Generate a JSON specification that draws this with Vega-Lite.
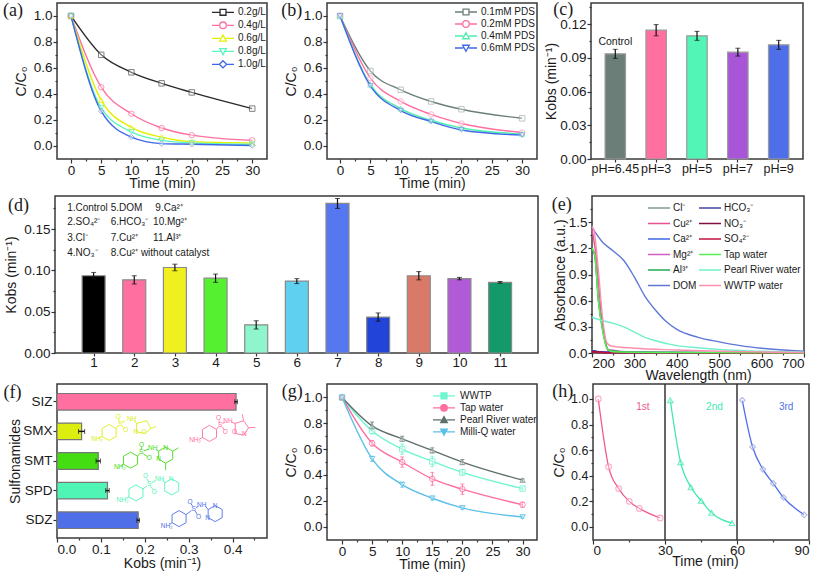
{"$schema":"https://vega.github.io/schema/vega-lite/v6.json","autosize":{"type":"none"},"padding":{"left":55,"top":3,"right":762,"bottom":570},"background":"white","config":{"font":"Liberation Sans","view":{"stroke":"#3a3a3a","strokeWidth":1.5},"axis":{"domain":false,"grid":false,"tickColor":"#333","tickWidth":1.2,"labelColor":"#1a1a1a","titleColor":"#1a1a1a","labelFontSize":13.5,"titleFontSize":14,"titleFontWeight":"normal","labelPadding":1,"tickSize":4,"labelOverlap":false}},"spacing":-13,"resolve":{"scale":{"color":"independent","stroke":"independent","shape":"independent"}},"vconcat":[{"spacing":2,"resolve":{"scale":{"color":"independent","stroke":"independent","shape":"independent"}},"vconcat":[{"bounds":"flush","spacing":1,"resolve":{"scale":{"color":"independent","stroke":"independent","shape":"independent"}},"hconcat":[{"width":1,"height":1,"view":{"stroke":null},"data":{"values":[]},"mark":"point"},{"width":210,"height":156,"encoding":{"x":{"field":"t","type":"quantitative","scale":{"domain":[-2.32,32.45],"nice":false,"zero":false},"axis":{"title":"Time (min)","titlePadding":0,"labelPadding":0,"values":[0,2.5,5,7.5,10,12.5,15,17.5,20,22.5,25,27.5,30],"format":"d","labelExpr":"datum.value%5==0?datum.label:''","tickSize":{"condition":{"test":"datum.value%5!=0","value":2},"value":4}}},"y":{"field":"v","type":"quantitative","scale":{"domain":[-0.104,1.1],"nice":false,"zero":false},"axis":{"title":"C/C₀","titlePadding":5,"values":[0,0.1,0.2,0.3,0.4,0.5,0.6,0.7,0.8,0.9,1],"format":".1f","labelExpr":"round(datum.value*10)%2==0?datum.label:''","tickSize":{"condition":{"test":"round(datum.value*10)%2!=0","value":2},"value":4}}}},"data":{"values":[{"s":"0.2g/L","t":0,"v":1},{"s":"0.2g/L","t":5,"v":0.7},{"s":"0.2g/L","t":10,"v":0.565},{"s":"0.2g/L","t":15,"v":0.48},{"s":"0.2g/L","t":20,"v":0.41},{"s":"0.2g/L","t":30,"v":0.285},{"s":"0.4g/L","t":0,"v":1},{"s":"0.4g/L","t":5,"v":0.45},{"s":"0.4g/L","t":10,"v":0.245},{"s":"0.4g/L","t":15,"v":0.135},{"s":"0.4g/L","t":20,"v":0.08},{"s":"0.4g/L","t":30,"v":0.04},{"s":"0.6g/L","t":0,"v":1},{"s":"0.6g/L","t":5,"v":0.35},{"s":"0.6g/L","t":10,"v":0.14},{"s":"0.6g/L","t":15,"v":0.065},{"s":"0.6g/L","t":20,"v":0.03},{"s":"0.6g/L","t":30,"v":0.02},{"s":"0.8g/L","t":0,"v":1},{"s":"0.8g/L","t":5,"v":0.29},{"s":"0.8g/L","t":10,"v":0.105},{"s":"0.8g/L","t":15,"v":0.04},{"s":"0.8g/L","t":20,"v":0.02},{"s":"0.8g/L","t":30,"v":0.01},{"s":"1.0g/L","t":0,"v":1},{"s":"1.0g/L","t":5,"v":0.265},{"s":"1.0g/L","t":10,"v":0.065},{"s":"1.0g/L","t":15,"v":0.015},{"s":"1.0g/L","t":20,"v":0.01},{"s":"1.0g/L","t":30,"v":0}]},"layer":[{"mark":{"type":"line","interpolate":"monotone","strokeWidth":1.4},"encoding":{"color":{"field":"s","type":"nominal","sort":null,"scale":{"domain":["0.2g/L","0.4g/L","0.6g/L","0.8g/L","1.0g/L"],"range":["#2a2a2a","#ff6f9f","#e3f000","#5cf5bd","#3f67e6"]},"legend":{"orient":"none","legendX":154,"legendY":3,"title":null,"padding":0,"labelFontSize":10,"labelColor":"#1a1a1a","symbolSize":484,"symbolStrokeWidth":1.3,"clipHeight":12.6,"rowPadding":0,"labelOffset":3,"symbolType":"M-1,0H1","encode":{"symbols":{"update":{"shape":{"signal":"{'0.2g/L':'M-1,0H-.27M.27,0H1M-.27,-.27H.27V.27H-.27Z','0.4g/L':'M-1,0H-.3M.3,0H1M.3,0A.3,.3 0 1 1 -.3,0A.3,.3 0 1 1 .3,0Z','0.6g/L':'M-1,0H-.25M.25,0H1M0,-.3L.3,.25H-.3Z','0.8g/L':'M-1,0H-.25M.25,0H1M0,.3L.3,-.25H-.3Z','1.0g/L':'M-1,0H-.3M.3,0H1M0,-.33L.33,0L0,.33L-.33,0Z'}[datum.value]"}}}}}}}},{"mark":{"type":"point","fill":"#ffffff","fillOpacity":0.5,"size":30,"strokeWidth":1,"opacity":0.75},"encoding":{"stroke":{"field":"s","type":"nominal","sort":null,"scale":{"range":["#555555","#ff6f9f","#e3f000","#5cf5bd","#7f95e6"]},"legend":null},"shape":{"field":"s","type":"nominal","sort":null,"scale":{"range":["square","circle","triangle-up","triangle-down","diamond"]},"legend":null}}},{"data":{"values":[{"t":-11.26,"v":1.04,"label":"(a)"}]},"mark":{"type":"text","font":"Liberation Serif","fontSize":18,"align":"left","baseline":"middle","color":"#1a1a1a"},"encoding":{"text":{"field":"label"}}}]},{"width":58,"height":1,"view":{"stroke":null},"data":{"values":[]},"mark":"point"},{"width":210,"height":156,"encoding":{"x":{"field":"t","type":"quantitative","scale":{"domain":[-2.15,32.45],"nice":false,"zero":false},"axis":{"title":"Time (min)","titlePadding":0,"labelPadding":0,"values":[0,2.5,5,7.5,10,12.5,15,17.5,20,22.5,25,27.5,30],"format":"d","labelExpr":"datum.value%5==0?datum.label:''","tickSize":{"condition":{"test":"datum.value%5!=0","value":2},"value":4}}},"y":{"field":"v","type":"quantitative","scale":{"domain":[-0.104,1.1],"nice":false,"zero":false},"axis":{"title":"C/C₀","titlePadding":5,"values":[0,0.1,0.2,0.3,0.4,0.5,0.6,0.7,0.8,0.9,1],"format":".1f","labelExpr":"round(datum.value*10)%2==0?datum.label:''","tickSize":{"condition":{"test":"round(datum.value*10)%2!=0","value":2},"value":4}}}},"data":{"values":[{"s":"0.1mM PDS","t":0,"v":1},{"s":"0.1mM PDS","t":5,"v":0.575},{"s":"0.1mM PDS","t":10,"v":0.43},{"s":"0.1mM PDS","t":15,"v":0.34},{"s":"0.1mM PDS","t":20,"v":0.28},{"s":"0.1mM PDS","t":30,"v":0.21},{"s":"0.2mM PDS","t":0,"v":1},{"s":"0.2mM PDS","t":5,"v":0.52},{"s":"0.2mM PDS","t":10,"v":0.34},{"s":"0.2mM PDS","t":15,"v":0.24},{"s":"0.2mM PDS","t":20,"v":0.17},{"s":"0.2mM PDS","t":30,"v":0.1},{"s":"0.4mM PDS","t":0,"v":1},{"s":"0.4mM PDS","t":5,"v":0.47},{"s":"0.4mM PDS","t":10,"v":0.285},{"s":"0.4mM PDS","t":15,"v":0.195},{"s":"0.4mM PDS","t":20,"v":0.135},{"s":"0.4mM PDS","t":30,"v":0.09},{"s":"0.6mM PDS","t":0,"v":1},{"s":"0.6mM PDS","t":5,"v":0.46},{"s":"0.6mM PDS","t":10,"v":0.27},{"s":"0.6mM PDS","t":15,"v":0.185},{"s":"0.6mM PDS","t":20,"v":0.12},{"s":"0.6mM PDS","t":30,"v":0.08}]},"layer":[{"mark":{"type":"line","interpolate":"monotone","strokeWidth":1.4},"encoding":{"color":{"field":"s","type":"nominal","sort":null,"scale":{"domain":["0.1mM PDS","0.2mM PDS","0.4mM PDS","0.6mM PDS"],"range":["#6b7f78","#ff6f9f","#4ff0b0","#3f67e6"]},"legend":{"orient":"none","legendX":127,"legendY":3,"title":null,"padding":0,"labelFontSize":10,"labelColor":"#1a1a1a","symbolSize":484,"symbolStrokeWidth":1.3,"clipHeight":12,"rowPadding":0,"labelOffset":3,"symbolType":"M-1,0H1","encode":{"symbols":{"update":{"shape":{"signal":"{'0.1mM PDS':'M-1,0H-.27M.27,0H1M-.27,-.27H.27V.27H-.27Z','0.2mM PDS':'M-1,0H-.3M.3,0H1M.3,0A.3,.3 0 1 1 -.3,0A.3,.3 0 1 1 .3,0Z','0.4mM PDS':'M-1,0H-.25M.25,0H1M0,-.3L.3,.25H-.3Z','0.6mM PDS':'M-1,0H-.25M.25,0H1M0,.3L.3,-.25H-.3Z'}[datum.value]"}}}}}}}},{"mark":{"type":"point","fill":"#ffffff","fillOpacity":0.5,"size":30,"strokeWidth":1,"opacity":0.75},"encoding":{"stroke":{"field":"s","type":"nominal","sort":null,"scale":{"range":["#aab4b0","#ff9fbf","#4ff0b0","#7f95e6"]},"legend":null},"shape":{"field":"s","type":"nominal","sort":null,"scale":{"range":["square","circle","triangle-up","triangle-down"]},"legend":null}}},{"data":{"values":[{"t":-9.7,"v":1.04,"label":"(b)"}]},"mark":{"type":"text","font":"Liberation Serif","fontSize":18,"align":"left","baseline":"middle","color":"#1a1a1a"},"encoding":{"text":{"field":"label"}}}]},{"width":52,"height":1,"view":{"stroke":null},"data":{"values":[]},"mark":"point"},{"width":212,"height":156,"data":{"values":[{"p":"pH=6.45","k":0.0935,"lo":0.0895,"hi":0.0975},{"p":"pH=3","k":0.1145,"lo":0.1095,"hi":0.1195},{"p":"pH=5","k":0.1095,"lo":0.1055,"hi":0.1135},{"p":"pH=7","k":0.095,"lo":0.0915,"hi":0.0985},{"p":"pH=9","k":0.1015,"lo":0.0975,"hi":0.1055}]},"encoding":{"x":{"field":"p","type":"nominal","sort":null,"scale":{"domain":["pH=6.45","pH=3","pH=5","pH=7","pH=9"],"paddingInner":0.5,"paddingOuter":0.345},"axis":{"title":null,"labelAngle":0,"labelFontSize":12.5,"tickSize":3,"labelPadding":0}},"y":{"field":"k","type":"quantitative","scale":{"domain":[0,0.1387],"nice":false},"axis":{"title":"Kobs (min⁻¹)","titlePadding":1,"values":[0,0.015,0.03,0.045,0.06,0.075,0.09,0.105,0.12,0.135],"format":".2f","labelExpr":"round(datum.value*1000)%30==0?datum.label:''","tickSize":{"condition":{"test":"round(datum.value*1000)%30!=0","value":2},"value":4}}}},"layer":[{"mark":{"type":"bar","stroke":"#9a9a9a","strokeWidth":1.2},"encoding":{"color":{"field":"p","type":"nominal","sort":null,"scale":{"domain":["pH=6.45","pH=3","pH=5","pH=7","pH=9"],"range":["#6b7f78","#ff6f9f","#52f5b5","#a855d8","#4f6fe8"]},"legend":null}}},{"mark":{"type":"errorbar","ticks":{"size":5,"color":"#111"},"rule":{"color":"#111","strokeWidth":1.2}},"encoding":{"y":{"field":"lo","type":"quantitative"},"y2":{"field":"hi"}}},{"data":{"values":[{"p":"pH=6.45","k":0.104,"label":"Control"}]},"mark":{"type":"text","fontSize":10.5,"color":"#1a1a1a"},"encoding":{"text":{"field":"label"}}},{"data":{"values":[{"p":"pH=6.45","k":0.1324,"label":"(c)"}]},"mark":{"type":"text","font":"Liberation Serif","fontSize":18,"align":"left","baseline":"middle","dx":-62,"color":"#1a1a1a"},"encoding":{"text":{"field":"label"}}}]}]},{"bounds":"flush","spacing":1,"resolve":{"scale":{"color":"independent","stroke":"independent","shape":"independent"}},"hconcat":[{"width":483,"height":157,"encoding":{"x":{"field":"t","type":"quantitative","scale":{"domain":[0.173,11.81],"nice":false,"zero":false},"axis":{"title":null,"values":[1,2,3,4,5,6,7,8,9,10,11],"format":"d","tickSize":3,"labelPadding":-1}},"y":{"field":"v","type":"quantitative","scale":{"domain":[0,0.19],"nice":false},"axis":{"title":"Kobs (min⁻¹)","titlePadding":5,"values":[0,0.025,0.05,0.075,0.1,0.125,0.15,0.175],"format":".2f","labelExpr":"round(datum.value*1000)%50==0?datum.label:''","tickSize":{"condition":{"test":"round(datum.value*1000)%50!=0","value":2},"value":4}}}},"layer":[{"data":{"values":[{"t":1,"v":0.0935,"lo":0.0895,"hi":0.0975},{"t":2,"v":0.0885,"lo":0.0835,"hi":0.0935},{"t":3,"v":0.1035,"lo":0.0995,"hi":0.1075},{"t":4,"v":0.0905,"lo":0.0855,"hi":0.0955},{"t":5,"v":0.034,"lo":0.029,"hi":0.039},{"t":6,"v":0.087,"lo":0.084,"hi":0.09},{"t":7,"v":0.181,"lo":0.175,"hi":0.187},{"t":8,"v":0.0435,"lo":0.0385,"hi":0.0485},{"t":9,"v":0.0935,"lo":0.0885,"hi":0.0985},{"t":10,"v":0.09,"lo":0.0885,"hi":0.0915},{"t":11,"v":0.0855,"lo":0.0845,"hi":0.0865}]},"layer":[{"mark":{"type":"bar","size":23,"stroke":"#8a8a8a","strokeWidth":1.2},"encoding":{"color":{"field":"t","type":"nominal","sort":null,"scale":{"domain":[1,2,3,4,5,6,7,8,9,10,11],"range":["#000000","#ff6f9f","#f0f020","#55f030","#8ef5cc","#5fd0f0","#5578f0","#2244d8","#d97a68","#b05ad8","#149a6a"]},"legend":null}}},{"mark":{"type":"errorbar","ticks":{"size":5,"color":"#111"},"rule":{"color":"#111","strokeWidth":1.2}},"encoding":{"y":{"field":"lo","type":"quantitative"},"y2":{"field":"hi"}}}]},{"data":{"values":[{"t":0.349,"v":0.176,"label":"1.Control"},{"t":0.349,"v":0.159,"label":"2.SO₄²⁻"},{"t":0.349,"v":0.1396,"label":"3.Cl⁻"},{"t":0.349,"v":0.1205,"label":"4.NO₃⁻"},{"t":1.419,"v":0.176,"label":"5.DOM"},{"t":1.419,"v":0.159,"label":"6.HCO₃⁻"},{"t":1.419,"v":0.1396,"label":"7.Cu²⁺"},{"t":1.419,"v":0.1205,"label":"8.Cu²⁺ without catalyst"},{"t":2.518,"v":0.176,"label":"9.Ca²⁺"},{"t":2.463,"v":0.159,"label":"10.Mg²⁺"},{"t":2.463,"v":0.1396,"label":"11.Al³⁺"}]},"mark":{"type":"text","fontSize":10,"align":"left","baseline":"middle","color":"#1a1a1a"},"encoding":{"text":{"field":"label"}}},{"data":{"values":[{"t":-1.104,"v":0.1775,"label":"(d)"}]},"mark":{"type":"text","font":"Liberation Serif","fontSize":18,"align":"left","baseline":"middle","color":"#1a1a1a"},"encoding":{"text":{"field":"label"}}}]},{"width":52,"height":1,"view":{"stroke":null},"data":{"values":[]},"mark":"point"},{"width":212,"height":157,"encoding":{"x":{"field":"t","type":"quantitative","scale":{"domain":[200,700],"nice":false,"zero":false},"axis":{"title":"Wavelength (nm)","titlePadding":-1,"labelPadding":-1,"values":[200,250,300,350,400,450,500,550,600,650,700],"format":"d","labelExpr":"datum.value%100==0?datum.label:''","tickSize":{"condition":{"test":"datum.value%100!=0","value":2},"value":4}}},"y":{"field":"v","type":"quantitative","scale":{"domain":[0,1.8],"nice":false},"axis":{"title":"Absorbance (a.u.)","titlePadding":1,"values":[0,0.15,0.3,0.45,0.6,0.75,0.9,1.05,1.2,1.35,1.5,1.65],"format":".1f","labelExpr":"round(datum.value*100)%30==0?datum.label:''","tickSize":{"condition":{"test":"round(datum.value*100)%30!=0","value":2},"value":4}}}},"layer":[{"data":{"values":[{"s":"Cl⁻","t":200,"v":0.03},{"s":"Cl⁻","t":220,"v":0.01},{"s":"Cl⁻","t":300,"v":0.002},{"s":"Cl⁻","t":700,"v":0},{"s":"Cu²⁺","t":200,"v":1.42},{"s":"Cu²⁺","t":210,"v":1.1},{"s":"Cu²⁺","t":225,"v":0.3},{"s":"Cu²⁺","t":240,"v":0.02},{"s":"Cu²⁺","t":260,"v":0.01},{"s":"Cu²⁺","t":700,"v":0},{"s":"Ca²⁺","t":200,"v":0.03},{"s":"Ca²⁺","t":230,"v":0.012},{"s":"Ca²⁺","t":700,"v":0},{"s":"Mg²⁺","t":200,"v":1.2},{"s":"Mg²⁺","t":207,"v":1.12},{"s":"Mg²⁺","t":215,"v":0.6},{"s":"Mg²⁺","t":226,"v":0.24},{"s":"Mg²⁺","t":238,"v":0.04},{"s":"Mg²⁺","t":300,"v":0.01},{"s":"Mg²⁺","t":700,"v":0},{"s":"Al³⁺","t":200,"v":1.2},{"s":"Al³⁺","t":207,"v":1.1},{"s":"Al³⁺","t":215,"v":0.62},{"s":"Al³⁺","t":226,"v":0.26},{"s":"Al³⁺","t":240,"v":0.03},{"s":"Al³⁺","t":300,"v":0.01},{"s":"Al³⁺","t":700,"v":0},{"s":"DOM","t":200,"v":1.44},{"s":"DOM","t":225,"v":1.27},{"s":"DOM","t":250,"v":1.17},{"s":"DOM","t":275,"v":1.06},{"s":"DOM","t":300,"v":0.87},{"s":"DOM","t":325,"v":0.65},{"s":"DOM","t":350,"v":0.49},{"s":"DOM","t":375,"v":0.36},{"s":"DOM","t":400,"v":0.27},{"s":"DOM","t":450,"v":0.18},{"s":"DOM","t":500,"v":0.128},{"s":"DOM","t":550,"v":0.085},{"s":"DOM","t":600,"v":0.055},{"s":"DOM","t":700,"v":0.02},{"s":"HCO₃⁻","t":200,"v":0.025},{"s":"HCO₃⁻","t":240,"v":0.005},{"s":"HCO₃⁻","t":700,"v":0},{"s":"NO₃⁻","t":200,"v":0.02},{"s":"NO₃⁻","t":240,"v":0.004},{"s":"NO₃⁻","t":700,"v":0},{"s":"SO₄²⁻","t":200,"v":0.015},{"s":"SO₄²⁻","t":240,"v":0.003},{"s":"SO₄²⁻","t":700,"v":0},{"s":"Tap water","t":200,"v":1.2},{"s":"Tap water","t":206,"v":1.14},{"s":"Tap water","t":215,"v":0.6},{"s":"Tap water","t":225,"v":0.25},{"s":"Tap water","t":236,"v":0.05},{"s":"Tap water","t":250,"v":0.015},{"s":"Tap water","t":400,"v":0.005},{"s":"Tap water","t":700,"v":0},{"s":"Pearl River water","t":200,"v":0.41},{"s":"Pearl River water","t":225,"v":0.37},{"s":"Pearl River water","t":250,"v":0.34},{"s":"Pearl River water","t":275,"v":0.3},{"s":"Pearl River water","t":300,"v":0.24},{"s":"Pearl River water","t":325,"v":0.18},{"s":"Pearl River water","t":350,"v":0.14},{"s":"Pearl River water","t":400,"v":0.085},{"s":"Pearl River water","t":450,"v":0.06},{"s":"Pearl River water","t":500,"v":0.04},{"s":"Pearl River water","t":600,"v":0.02},{"s":"Pearl River water","t":700,"v":0.01},{"s":"WWTP water","t":200,"v":1.45},{"s":"WWTP water","t":205,"v":1.4},{"s":"WWTP water","t":215,"v":0.95},{"s":"WWTP water","t":225,"v":0.4},{"s":"WWTP water","t":235,"v":0.12},{"s":"WWTP water","t":245,"v":0.08},{"s":"WWTP water","t":300,"v":0.055},{"s":"WWTP water","t":400,"v":0.035},{"s":"WWTP water","t":500,"v":0.02},{"s":"WWTP water","t":600,"v":0.012},{"s":"WWTP water","t":700,"v":0.005}]},"mark":{"type":"line","interpolate":"monotone","strokeWidth":1.4},"encoding":{"color":{"field":"s","type":"nominal","sort":null,"scale":{"domain":["Cl⁻","Cu²⁺","Ca²⁺","Mg²⁺","Al³⁺","DOM","HCO₃⁻","NO₃⁻","SO₄²⁻","Tap water","Pearl River water","WWTP water"],"range":["#7f9a8a","#e85090","#3f67e6","#d060c8","#22aa55","#5f78d8","#4444a0","#801040","#c01040","#55ee55","#6ff0c8","#ff8fb0"]},"legend":{"orient":"none","legendX":55,"legendY":6,"columns":2,"title":null,"padding":0,"labelFontSize":10,"labelColor":"#1a1a1a","symbolSize":484,"symbolStrokeWidth":1.3,"clipHeight":12,"rowPadding":3.5,"columnPadding":1,"labelOffset":2,"symbolType":"M-1,0H1"}}}},{"data":{"values":[{"t":105,"v":1.7,"label":"(e)"}]},"mark":{"type":"text","font":"Liberation Serif","fontSize":18,"align":"left","baseline":"middle","color":"#1a1a1a"},"encoding":{"text":{"field":"label"}}}]}]}]},{"bounds":"flush","spacing":1,"resolve":{"scale":{"color":"independent","stroke":"independent","shape":"independent"}},"hconcat":[{"width":1,"height":1,"view":{"stroke":null},"data":{"values":[]},"mark":"point"},{"width":210,"height":154,"resolve":{"scale":{"x":"independent","y":"independent"}},"layer":[{"data":{"values":[{"n":"SIZ","k":0.408,"lo":0.405,"hi":0.411},{"n":"SMX","k":0.056,"lo":0.049,"hi":0.063},{"n":"SMT","k":0.094,"lo":0.089,"hi":0.099},{"n":"SPD","k":0.115,"lo":0.111,"hi":0.119},{"n":"SDZ","k":0.185,"lo":0.182,"hi":0.188}]},"encoding":{"y":{"field":"n","type":"nominal","sort":null,"scale":{"domain":["SIZ","SMX","SMT","SPD","SDZ"],"paddingInner":0.44,"paddingOuter":0.32},"axis":{"title":"Sulfonamides","titlePadding":0,"tickSize":4}},"x":{"field":"k","type":"quantitative","scale":{"domain":[0,0.4785],"nice":false},"axis":{"title":"Kobs (min⁻¹)","titlePadding":1,"labelPadding":0,"values":[0,0.05,0.1,0.15,0.2,0.25,0.3,0.35,0.4,0.45],"format":".1f","labelExpr":"round(datum.value*100)%10==0?datum.label:''","tickSize":{"condition":{"test":"round(datum.value*100)%10!=0","value":2},"value":4}}}},"layer":[{"mark":{"type":"bar","stroke":"#777","strokeWidth":1.2},"encoding":{"color":{"field":"n","type":"nominal","sort":null,"scale":{"domain":["SIZ","SMX","SMT","SPD","SDZ"],"range":["#ff6f9f","#dcee10","#44dd11","#4ff5b5","#4f6fe8"]},"legend":null}}},{"mark":{"type":"errorbar","ticks":{"size":5,"color":"#111"},"rule":{"color":"#111","strokeWidth":1.4}},"encoding":{"x":{"field":"lo","type":"quantitative"},"x2":{"field":"hi"}}},{"data":{"values":[{"n":"SIZ","k":-0.122,"label":"(f)"}]},"mark":{"type":"text","font":"Liberation Serif","fontSize":18,"align":"left","baseline":"middle","dy":-9,"color":"#1a1a1a"},"encoding":{"text":{"field":"label"}}}]},{"encoding":{"x":{"field":"mx","type":"quantitative","scale":{"domain":[172,800],"nice":false,"zero":false},"axis":null},"y":{"field":"my","type":"quantitative","scale":{"domain":[473,12],"nice":false,"zero":false},"axis":null},"color":{"field":"m","type":"nominal","scale":{"domain":["SMX","SIZ","SMT","SPD","SDZ"],"range":["#e8ee70","#ff9cbc","#66ee55","#80f0d8","#b0b8e0"]},"legend":null}},"layer":[{"data":{"values":[{"m":"SMX","g":"a","mx":[307,328,349,349,328,307,307],"my":[145,133,145,169,181,169,145]},{"m":"SMX","g":"b","mx":[307,296],"my":[169,175]},{"m":"SMX","g":"c","mx":[349,355],"my":[145,137]},{"m":"SMX","g":"d","mx":[358,356],"my":[125,117]},{"m":"SMX","g":"e","mx":[366,372],"my":[137,145]},{"m":"SMX","g":"f","mx":[366,375],"my":[128,122]},{"m":"SMX","g":"g","mx":[402,410,440,453,435,410,410],"my":[120,130,122,145,160,155,130]},{"m":"SMX","g":"h","mx":[453,468],"my":[145,140]},{"m":"SIZ","g":"a","mx":[607,628,649,649,628,607,607],"my":[148,136,148,172,184,172,148]},{"m":"SIZ","g":"b","mx":[607,596],"my":[172,178]},{"m":"SIZ","g":"c","mx":[649,655],"my":[148,140]},{"m":"SIZ","g":"d","mx":[658,656],"my":[128,121]},{"m":"SIZ","g":"e","mx":[666,672],"my":[140,149]},{"m":"SIZ","g":"f","mx":[666,675],"my":[130,126]},{"m":"SIZ","g":"g","mx":[692,705,730,745,730,705,705],"my":[126,130,122,143,165,160,130]},{"m":"SIZ","g":"h","mx":[730,726],"my":[122,103]},{"m":"SIZ","g":"i","mx":[745,765],"my":[143,142]},{"m":"SMT","g":"a","mx":[371,392,413,413,392,371,371],"my":[228,216,228,252,264,252,228]},{"m":"SMT","g":"b","mx":[371,362],"my":[252,257]},{"m":"SMT","g":"c","mx":[413,419],"my":[228,221]},{"m":"SMT","g":"d","mx":[424,425],"my":[208,201]},{"m":"SMT","g":"e","mx":[430,443],"my":[221,230]},{"m":"SMT","g":"f","mx":[431,447],"my":[212,207]},{"m":"SMT","g":"g","mx":[468,476,497,518,518,497,476,476],"my":[208,213,201,213,237,249,237,213]},{"m":"SMT","g":"h","mx":[518,535],"my":[213,203]},{"m":"SMT","g":"i","mx":[497,497],"my":[249,270]},{"m":"SPD","g":"a","mx":[387,408,429,429,408,387,387],"my":[326,314,326,350,362,350,326]},{"m":"SPD","g":"b","mx":[387,378],"my":[350,355]},{"m":"SPD","g":"c","mx":[429,441],"my":[326,317]},{"m":"SPD","g":"d","mx":[446,440],"my":[305,295]},{"m":"SPD","g":"e","mx":[452,460],"my":[319,329]},{"m":"SPD","g":"f","mx":[455,467],"my":[308,301]},{"m":"SPD","g":"g","mx":[488,494,515,536,536,515,494,494],"my":[298,308,296,308,332,344,332,308]},{"m":"SDZ","g":"a","mx":[516,537,558,558,537,516,516],"my":[403,391,403,427,439,427,403]},{"m":"SDZ","g":"b","mx":[516,510],"my":[427,432]},{"m":"SDZ","g":"c","mx":[558,574],"my":[403,391]},{"m":"SDZ","g":"d","mx":[578,573],"my":[378,371]},{"m":"SDZ","g":"e","mx":[585,592],"my":[392,403]},{"m":"SDZ","g":"f","mx":[588,595],"my":[382,378]},{"m":"SDZ","g":"g","mx":[615,624,645,666,666,645,624,624],"my":[377,388,376,388,412,424,412,388]}]},"transform":[{"flatten":["mx","my"]},{"calculate":"datum.m+datum.g","as":"id"},{"window":[{"op":"row_number","as":"i"}]}],"mark":{"type":"line","strokeWidth":0.9},"encoding":{"detail":{"field":"id"},"order":{"field":"i","type":"quantitative"}}},{"data":{"values":[{"m":"SMX","mx":292,"my":176,"label":"NH₂"},{"m":"SMX","mx":361,"my":132,"label":"S"},{"m":"SMX","mx":355,"my":112,"label":"O"},{"m":"SMX","mx":378,"my":151,"label":"O"},{"m":"SMX","mx":395,"my":118,"label":"NH"},{"m":"SMX","mx":408,"my":155,"label":"N"},{"m":"SMX","mx":432,"my":157,"label":"O"},{"m":"SIZ","mx":585,"my":181,"label":"NH₂"},{"m":"SIZ","mx":660,"my":135,"label":"S"},{"m":"SIZ","mx":655,"my":115,"label":"O"},{"m":"SIZ","mx":675,"my":155,"label":"O"},{"m":"SIZ","mx":683,"my":124,"label":"NH"},{"m":"SIZ","mx":703,"my":157,"label":"O"},{"m":"SIZ","mx":732,"my":161,"label":"N"},{"m":"SMT","mx":360,"my":260,"label":"NH₂"},{"m":"SMT","mx":424,"my":215,"label":"S"},{"m":"SMT","mx":425,"my":195,"label":"O"},{"m":"SMT","mx":448,"my":235,"label":"O"},{"m":"SMT","mx":458,"my":205,"label":"NH"},{"m":"SMT","mx":497,"my":203,"label":"N"},{"m":"SMT","mx":476,"my":238,"label":"N"},{"m":"SPD","mx":368,"my":358,"label":"NH₂"},{"m":"SPD","mx":448,"my":312,"label":"S"},{"m":"SPD","mx":437,"my":288,"label":"O"},{"m":"SPD","mx":463,"my":335,"label":"O"},{"m":"SPD","mx":478,"my":297,"label":"NH"},{"m":"SPD","mx":513,"my":297,"label":"N"},{"m":"SDZ","mx":500,"my":437,"label":"NH₂"},{"m":"SDZ","mx":581,"my":385,"label":"S"},{"m":"SDZ","mx":570,"my":365,"label":"O"},{"m":"SDZ","mx":595,"my":410,"label":"O"},{"m":"SDZ","mx":605,"my":375,"label":"NH"},{"m":"SDZ","mx":645,"my":378,"label":"N"},{"m":"SDZ","mx":622,"my":412,"label":"N"}]},"mark":{"type":"text","fontSize":6.5},"encoding":{"text":{"field":"label"}}}]}]},{"width":58,"height":1,"view":{"stroke":null},"data":{"values":[]},"mark":"point"},{"width":210,"height":156,"encoding":{"x":{"field":"t","type":"quantitative","scale":{"domain":[-2.5,32.4],"nice":false,"zero":false},"axis":{"title":"Time (min)","titlePadding":0,"labelPadding":0,"values":[0,2.5,5,7.5,10,12.5,15,17.5,20,22.5,25,27.5,30],"format":"d","labelExpr":"datum.value%5==0?datum.label:''","tickSize":{"condition":{"test":"datum.value%5!=0","value":2},"value":4}}},"y":{"field":"v","type":"quantitative","scale":{"domain":[-0.103,1.104],"nice":false,"zero":false},"axis":{"title":"C/C₀","titlePadding":5,"values":[0,0.1,0.2,0.3,0.4,0.5,0.6,0.7,0.8,0.9,1],"format":".1f","labelExpr":"round(datum.value*10)%2==0?datum.label:''","tickSize":{"condition":{"test":"round(datum.value*10)%2!=0","value":2},"value":4}}}},"data":{"values":[{"s":"WWTP","t":0,"v":1,"lo":1,"hi":1},{"s":"WWTP","t":5,"v":0.74,"lo":0.72,"hi":0.76},{"s":"WWTP","t":10,"v":0.6,"lo":0.56,"hi":0.64},{"s":"WWTP","t":15,"v":0.505,"lo":0.465,"hi":0.545},{"s":"WWTP","t":20,"v":0.42,"lo":0.4,"hi":0.44},{"s":"WWTP","t":30,"v":0.295,"lo":0.285,"hi":0.305},{"s":"Tap water","t":0,"v":1,"lo":1,"hi":1},{"s":"Tap water","t":5,"v":0.645,"lo":0.625,"hi":0.665},{"s":"Tap water","t":10,"v":0.5,"lo":0.46,"hi":0.54},{"s":"Tap water","t":15,"v":0.37,"lo":0.32,"hi":0.42},{"s":"Tap water","t":20,"v":0.29,"lo":0.25,"hi":0.33},{"s":"Tap water","t":30,"v":0.17,"lo":0.15,"hi":0.19},{"s":"Pearl River water","t":0,"v":1,"lo":1,"hi":1},{"s":"Pearl River water","t":5,"v":0.78,"lo":0.75,"hi":0.81},{"s":"Pearl River water","t":10,"v":0.68,"lo":0.66,"hi":0.7},{"s":"Pearl River water","t":15,"v":0.59,"lo":0.57,"hi":0.61},{"s":"Pearl River water","t":20,"v":0.5,"lo":0.48,"hi":0.52},{"s":"Pearl River water","t":30,"v":0.36,"lo":0.35,"hi":0.37},{"s":"Milli-Q water","t":0,"v":1,"lo":1,"hi":1},{"s":"Milli-Q water","t":5,"v":0.525,"lo":0.505,"hi":0.545},{"s":"Milli-Q water","t":10,"v":0.325,"lo":0.305,"hi":0.345},{"s":"Milli-Q water","t":15,"v":0.22,"lo":0.205,"hi":0.235},{"s":"Milli-Q water","t":20,"v":0.145,"lo":0.135,"hi":0.155},{"s":"Milli-Q water","t":30,"v":0.075,"lo":0.065,"hi":0.085}]},"layer":[{"mark":{"type":"line","interpolate":"monotone","strokeWidth":1.4},"encoding":{"color":{"field":"s","type":"nominal","sort":null,"scale":{"domain":["WWTP","Tap water","Pearl River water","Milli-Q water"],"range":["#6ff5d0","#ff6f9f","#5f6f6c","#5cc0e8"]},"legend":{"orient":"none","legendX":105,"legendY":6,"title":null,"padding":0,"labelFontSize":10,"labelColor":"#1a1a1a","symbolSize":484,"symbolStrokeWidth":1.3,"clipHeight":11.7,"rowPadding":0,"labelOffset":4,"symbolType":"M-1,0H1","encode":{"symbols":{"update":{"shape":{"signal":"{'WWTP':'M-1,0H-.27M.27,0H1M-.27,-.27H.27V.27H-.27Z','Tap water':'M-1,0H-.3M.3,0H1M.3,0A.3,.3 0 1 1 -.3,0A.3,.3 0 1 1 .3,0Z','Pearl River water':'M-1,0H-.25M.25,0H1M0,-.3L.3,.25H-.3Z','Milli-Q water':'M-1,0H-.25M.25,0H1M0,.3L.3,-.25H-.3Z'}[datum.value]"}}}}}}}},{"mark":{"type":"errorbar","ticks":{"size":4}},"encoding":{"y":{"field":"lo","type":"quantitative"},"y2":{"field":"hi"},"color":{"field":"s","type":"nominal","sort":null,"legend":null}}},{"mark":{"type":"point","fill":"#ffffff","fillOpacity":0.5,"size":30,"strokeWidth":1,"opacity":0.8},"encoding":{"stroke":{"field":"s","type":"nominal","sort":null,"scale":{"range":["#6ff5d0","#ff6f9f","#8f9f9c","#5cc0e8"]},"legend":null},"shape":{"field":"s","type":"nominal","sort":null,"scale":{"range":["square","circle","triangle-up","triangle-down"]},"legend":null}}},{"data":{"values":[{"t":-10,"v":1.044,"label":"(g)"}]},"mark":{"type":"text","font":"Liberation Serif","fontSize":18,"align":"left","baseline":"middle","color":"#1a1a1a"},"encoding":{"text":{"field":"label"}}}]},{"width":54,"height":1,"view":{"stroke":null},"data":{"values":[]},"mark":"point"},{"width":216,"height":156,"encoding":{"x":{"field":"t","type":"quantitative","scale":{"domain":[0,90],"nice":false,"zero":false},"axis":{"title":"Time (min)","titlePadding":-2,"labelPadding":-1,"titleX":112,"values":[0,15,30,45,60,75,90],"format":"d","labelExpr":"datum.value%30==0?datum.label:''","tickSize":{"condition":{"test":"datum.value%30!=0","value":2},"value":4}}},"y":{"field":"v","type":"quantitative","scale":{"domain":[-0.102,1.117],"nice":false,"zero":false},"axis":{"title":"C/C₀","titlePadding":4,"labelFontSize":12.5,"values":[0,0.1,0.2,0.3,0.4,0.5,0.6,0.7,0.8,0.9,1],"format":".1f","labelExpr":"round(datum.value*10)%2==0?datum.label:''","tickSize":{"condition":{"test":"round(datum.value*10)%2!=0","value":2},"value":4}}}},"layer":[{"data":{"values":[{"t":30,"v":-0.102,"v2":1.117},{"t":60,"v":-0.102,"v2":1.117}]},"mark":{"type":"rule","stroke":"#333","strokeWidth":1.5},"encoding":{"y2":{"field":"v2"}}},{"data":{"values":[{"s":"1st","t":2.2,"v":1},{"s":"1st","t":6.5,"v":0.47},{"s":"1st","t":10.7,"v":0.3},{"s":"1st","t":15.1,"v":0.2},{"s":"1st","t":19.3,"v":0.145},{"s":"1st","t":28,"v":0.07},{"s":"2nd","t":32.2,"v":0.99},{"s":"2nd","t":36.5,"v":0.505},{"s":"2nd","t":40.8,"v":0.31},{"s":"2nd","t":45.1,"v":0.205},{"s":"2nd","t":49.4,"v":0.11},{"s":"2nd","t":57.9,"v":0.03},{"s":"3rd","t":62.2,"v":0.99},{"s":"3rd","t":66.5,"v":0.625},{"s":"3rd","t":70.8,"v":0.45},{"s":"3rd","t":75.1,"v":0.34},{"s":"3rd","t":79.4,"v":0.23},{"s":"3rd","t":88,"v":0.095}]},"layer":[{"mark":{"type":"line","interpolate":"monotone","strokeWidth":1.3},"encoding":{"color":{"field":"s","type":"nominal","scale":{"domain":["1st","2nd","3rd"],"range":["#f05a88","#3fe8b0","#4f6fe8"]},"legend":null}}},{"mark":{"type":"point","fill":"#ffffff","fillOpacity":0.5,"size":32,"strokeWidth":1.1,"opacity":0.75},"encoding":{"stroke":{"field":"s","type":"nominal","scale":{"domain":["1st","2nd","3rd"],"range":["#ff8fb0","#3fe8b0","#9aa4dc"]},"legend":null},"shape":{"field":"s","type":"nominal","scale":{"domain":["1st","2nd","3rd"],"range":["circle","triangle-up","diamond"]},"legend":null}}}]},{"data":{"values":[{"s":"1st","t":20.8,"v":0.94,"label":"1st"},{"s":"2nd","t":50.6,"v":0.94,"label":"2nd"},{"s":"3rd","t":80.5,"v":0.94,"label":"3rd"}]},"mark":{"type":"text","fontSize":10},"encoding":{"text":{"field":"label"},"color":{"field":"s","type":"nominal","scale":{"domain":["1st","2nd","3rd"],"range":["#f05a88","#3fe8b0","#4f6fe8"]},"legend":null}}},{"data":{"values":[{"t":-17,"v":1.057,"label":"(h)"}]},"mark":{"type":"text","font":"Liberation Serif","fontSize":18,"align":"left","baseline":"middle","color":"#1a1a1a"},"encoding":{"text":{"field":"label"}}}]}]}]}
